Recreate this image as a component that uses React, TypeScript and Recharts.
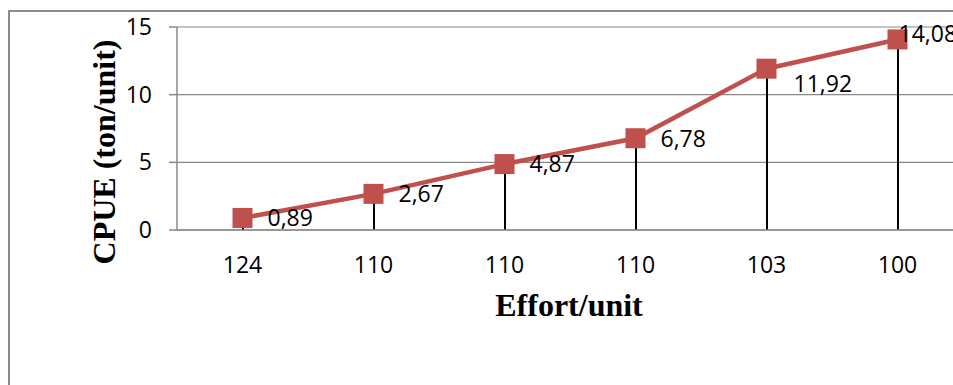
import React from 'react';
import { ComposedChart, Line, Bar, XAxis, YAxis, CartesianGrid, LabelList, Label } from 'recharts';

// ---- data ----
const categories = ['124', '110', '110', '110', '103', '100'];
const cpueValues = [0.89, 2.67, 4.87, 6.78, 11.92, 14.08];
const cpueLabels = ['0,89', '2,67', '4,87', '6,78', '11,92', '14,08'];
const yTicks = [0, 5, 10, 15];

const data = categories.map((c, i) => ({ idx: i, effort: c, cpue: cpueValues[i], label: cpueLabels[i] }));

// ---- styles ----
const RED = '#C0504D';
const GRAY = '#888888';
const SANS = "'Open Sans', sans-serif";
const SERIF = "'Liberation Serif', 'Times New Roman', serif";
const LABEL_SHIFT: [number, number][] = [[25, 0], [25, 0], [25, 0], [25, 0], [27, 15], [1, -6]];

const SquareDot = (props: any) => {
  const { cx, cy } = props;
  if (cx == null || cy == null) return <g />;
  return <rect x={cx - 10} y={cy - 10} width={20} height={20} fill={RED} />;
};

const renderValueLabel = (props: any) => {
  const { x, y, index, value } = props;
  const [dx, dy] = LABEL_SHIFT[index] || [25, 0];
  return (
    <text x={x + dx} y={y + dy} dy="0.36em" textAnchor="start" fontFamily={SANS} fontSize={23} fill="#000">
      {value}
    </text>
  );
};

export default function App() {
  return (
    <div style={{ position: 'fixed', left: 0, top: 0, width: 953, height: 385, overflow: 'hidden', background: '#fff' }}>
      <div
        style={{
          position: 'absolute',
          left: 7.5,
          top: 9.5,
          width: 1200,
          height: 600,
          borderLeft: '2px solid #8c8c8c',
          borderTop: '2px solid #8c8c8c',
          boxSizing: 'border-box',
        }}
      />
      <div style={{ position: 'absolute', left: 8, top: 8 }}>
        <ComposedChart width={960} height={377} data={data} margin={{ top: 19, right: 5, left: 0, bottom: 125 }}>
          <CartesianGrid horizontal vertical={false} stroke={GRAY} strokeWidth={1.2} />
          <XAxis
            dataKey="idx"
            type="category"
            interval={0}
            height={30}
            tickFormatter={(v: any) => categories[v]}
            axisLine={{ stroke: GRAY, strokeWidth: 1.5 }}
            tickLine={false}
            tickSize={0}
            tickMargin={27}
            tick={{ fill: '#000', fontFamily: SANS, fontSize: 23 }}
          >
            <Label
              content={(p: any) => {
                const vb = p.viewBox;
                return (
                  <text
                    x={vb.x + vb.width / 2 - 1}
                    y={vb.y + 86}
                    textAnchor="middle"
                    fontFamily={SERIF}
                    fontWeight="bold"
                    fontSize={32}
                    fill="#000"
                  >
                    Effort/unit
                  </text>
                );
              }}
            />
          </XAxis>
          <YAxis
            width={169}
            domain={[0, 15]}
            ticks={yTicks}
            interval={0}
            axisLine={{ stroke: GRAY, strokeWidth: 1.5 }}
            tickLine={{ stroke: GRAY, strokeWidth: 1.5 }}
            tickSize={8}
            tickMargin={17}
            tick={{ fill: '#000', fontFamily: SANS, fontSize: 23 }}
          >
            <Label
              content={(p: any) => {
                const vb = p.viewBox;
                const x = vb.x + 107;
                const y = vb.y + vb.height / 2 + 23.5;
                return (
                  <text
                    x={x}
                    y={y}
                    transform={`rotate(-90, ${x}, ${y})`}
                    textAnchor="middle"
                    fontFamily={SERIF}
                    fontWeight="bold"
                    fontSize={32}
                    fill="#000"
                  >
                    CPUE (ton/unit)
                  </text>
                );
              }}
            />
          </YAxis>
          <Line
            dataKey="cpue"
            stroke={RED}
            strokeWidth={4.5}
            dot={<SquareDot />}
            activeDot={false}
            isAnimationActive={false}
          >
            <LabelList dataKey="label" content={renderValueLabel} />
          </Line>
          <Bar dataKey="cpue" barSize={2} fill="#000" isAnimationActive={false} />
        </ComposedChart>
      </div>
    </div>
  );
}
